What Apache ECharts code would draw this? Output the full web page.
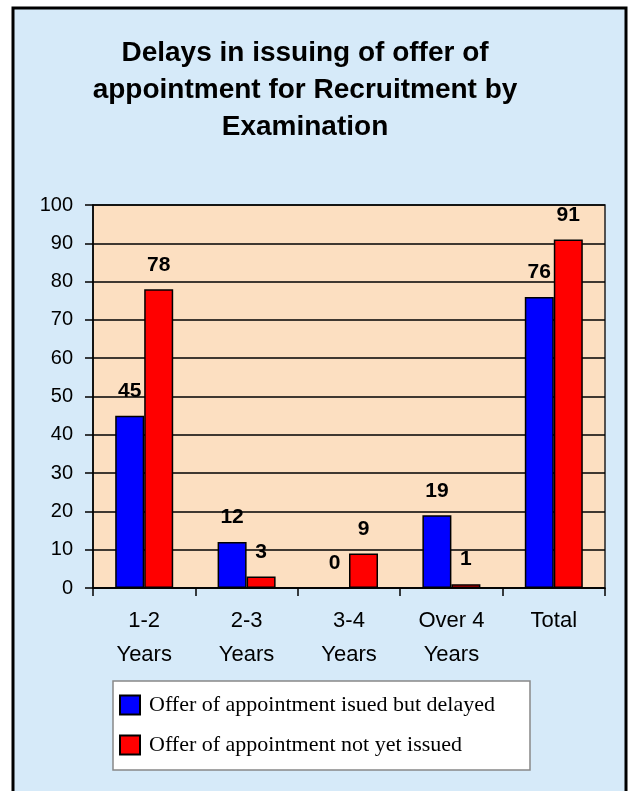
<!DOCTYPE html>
<html>
<head>
<meta charset="utf-8">
<script src="https://cdn.jsdelivr.net/npm/echarts@6/dist/echarts.min.js"></script>
<style>
  html, body { margin: 0; padding: 0; background: #fff; }
  #chart { width: 628px; height: 791px; }
</style>
</head>
<body>
<div id="chart"></div>
<script>
// data
var categories = ['1-2\nYears', '2-3\nYears', '3-4\nYears', 'Over 4\nYears', 'Total'];
var delayed = [45, 12, 0, 19, 76];      // Offer of appointment isued but delayed
var notIssued = [78, 3, 9, 1, 91];      // Offer of appointment not yet issued
var seriesNames = ['Offer of appointment isued but delayed', 'Offer of appointment not yet issued'];
var titleText = 'Delays in issuing of offer of\nappointment for Recruitment by\nExamination';

var sans = '"Liberation Sans", Arial, sans-serif';

var chart = echarts.init(document.getElementById('chart'));

function barSeries(name, data, color) {
  return {
    name: name,
    type: 'bar',
    data: data,
    barWidth: 29,
    barGap: '0%',
    itemStyle: { color: color, borderColor: '#000', borderWidth: 1.5 },
    label: {
      show: true,
      position: 'top',
      distance: 14,
      color: '#000',
      fontFamily: sans,
      fontWeight: 'bold',
      fontSize: 21
    }
  };
}

var option = {
  animation: false,
  backgroundColor: '#fff',
  graphic: [{
    type: 'rect',
    z: -10,
    shape: { x: 13, y: 8, width: 613, height: 800 },
    style: { fill: '#d6eaf9', stroke: '#000', lineWidth: 3 }
  }],
  title: {
    text: titleText,
    left: 300,
    top: 30,
    textAlign: 'center',
    textStyle: {
      fontFamily: sans,
      fontWeight: 'bold',
      fontSize: 28,
      lineHeight: 37,
      color: '#000'
    }
  },
  legend: {
    orient: 'vertical',
    left: 113,
    top: 681,
    padding: [13, 35, 14, 6],
    itemGap: 18,
    itemWidth: 20,
    itemHeight: 19,
    icon: 'rect',
    itemStyle: { borderColor: '#000', borderWidth: 2 },
    backgroundColor: '#fff',
    borderColor: '#888',
    borderWidth: 1.5,
    textStyle: {
      fontFamily: '"Liberation Serif", "Times New Roman", serif',
      fontSize: 22,
      color: '#000',
      padding: [0, 0, 0, 4]
    },
    data: seriesNames
  },
  grid: {
    left: 93,
    top: 205,
    right: 23,
    bottom: 203,
    show: true,
    backgroundColor: '#fcdfc1',
    borderColor: '#222',
    borderWidth: 1.5
  },
  xAxis: {
    type: 'category',
    data: categories,
    axisLine: { lineStyle: { color: '#000', width: 1.5 } },
    axisTick: { show: true, length: 8, lineStyle: { color: '#000', width: 1.5 } },
    axisLabel: {
      margin: 16,
      fontFamily: sans,
      fontSize: 22,
      lineHeight: 34,
      color: '#000'
    }
  },
  yAxis: {
    type: 'value',
    min: 0,
    max: 100,
    interval: 10,
    axisLine: { show: true, lineStyle: { color: '#000', width: 1.5 } },
    axisTick: { show: true, length: 8, lineStyle: { color: '#000', width: 1.5 } },
    splitLine: { lineStyle: { color: '#000', width: 1.5 } },
    axisLabel: {
      margin: 20,
      fontFamily: sans,
      fontSize: 20,
      color: '#000'
    }
  },
  series: [
    barSeries(seriesNames[0], delayed, '#0000ff'),
    barSeries(seriesNames[1], notIssued, '#ff0000')
  ]
};

chart.setOption(option);
</script>
</body>
</html>
